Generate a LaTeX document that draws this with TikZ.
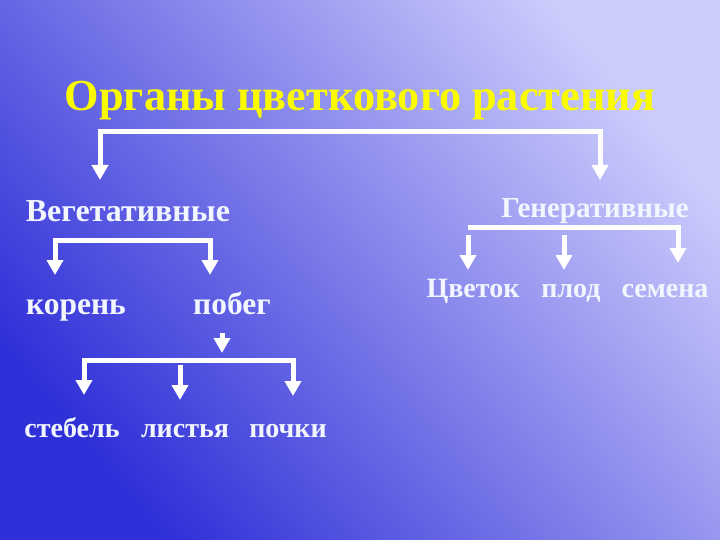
\documentclass[tikz,border=0pt]{standalone}
\usepackage{fontspec}
\setmainfont{Liberation Serif}
\usetikzlibrary{arrows.meta}

\definecolor{bgdark}{RGB}{48,48,216}
\definecolor{bglight}{RGB}{204,204,252}
\definecolor{titleyellow}{RGB}{250,250,0}
\definecolor{organwhite}{RGB}{242,246,255}

\newcommand{\organsize}[1]{\bfseries\fontsize{#1}{#1}\selectfont}

\tikzset{
  organ/.style={text=organwhite,font=\organsize{28},inner sep=0pt,anchor=base},
  branch/.style={draw=white,line width=5pt},
  down/.style={branch,-{Triangle[length=15pt,width=16pt]}},
}

\begin{document}
\begin{tikzpicture}[x=1pt,y=-1pt]
  \shade[bottom color=bgdark,top color=bglight,shading angle=-50] (0,0) rectangle (720,540);
  \useasboundingbox (0,0) rectangle (720,540);
  \node[text=titleyellow,font=\organsize{44.3},inner sep=0pt,anchor=base] (title) at (360,111) {Органы цветкового растения};
  % first level
  \node[organ,font=\organsize{32}] (veg) at (128,222) {Вегетативные};
  \node[organ,font=\organsize{29}] (gen) at (595,218) {Генеративные};
  \coordinate (topl) at (100,132);
  \coordinate (topr) at (600,132);
  \coordinate (vegtip) at (100,180);
  \coordinate (gentip) at (600,180);
  \draw[down] (topr) -- (topl) -- (vegtip);
  \draw[down] (topl) -- (topr) -- (gentip);
  % vegetative organs
  \node[organ,font=\organsize{31.5}] (root) at (76,314) {корень};
  \node[organ,font=\organsize{31.5}] (shoot) at (232,314) {побег};
  \coordinate (vegl) at (55,240);
  \coordinate (vegr) at (210,240);
  \coordinate (roottip) at (55,275);
  \coordinate (shoottip) at (210,275);
  \draw[down] (vegr) -- (vegl) -- (roottip);
  \draw[down] (vegl) -- (vegr) -- (shoottip);
  % parts of the shoot
  \node[organ] (stem) at (72,437) {стебель};
  \node[organ] (leaves) at (185,437) {листья};
  \node[organ] (buds) at (288,437) {почки};
  \coordinate (shootout) at (222,333);
  \coordinate (shootin) at (222,353);
  \draw[down] (shootout) -- (shootin);
  \coordinate (shootl) at (84,360);
  \coordinate (shootr) at (293,360);
  \coordinate (stemtip) at (84,395);
  \coordinate (budstip) at (293,396);
  \coordinate (leavesin) at (180,365);
  \coordinate (leavestip) at (180,400);
  \draw[down] (shootr) -- (shootl) -- (stemtip);
  \draw[down] (shootl) -- (shootr) -- (budstip);
  \draw[down] (leavesin) -- (leavestip);
  % generative organs
  \node[organ] (flower) at (473,297) {Цветок};
  \node[organ] (fruit) at (571,297) {плод};
  \node[organ] (seeds) at (665,297) {семена};
  \coordinate (genl) at (468,228);
  \coordinate (genr) at (678,228);
  \coordinate (seedstip) at (678,263);
  \coordinate (flowerin) at (468,235);
  \coordinate (flowertip) at (468,270);
  \coordinate (fruitin) at (564,235);
  \coordinate (fruittip) at (564,270);
  \draw[down] (genl) -- (genr) -- (seedstip);
  \draw[down] (flowerin) -- (flowertip);
  \draw[down] (fruitin) -- (fruittip);
\end{tikzpicture}
\end{document}
